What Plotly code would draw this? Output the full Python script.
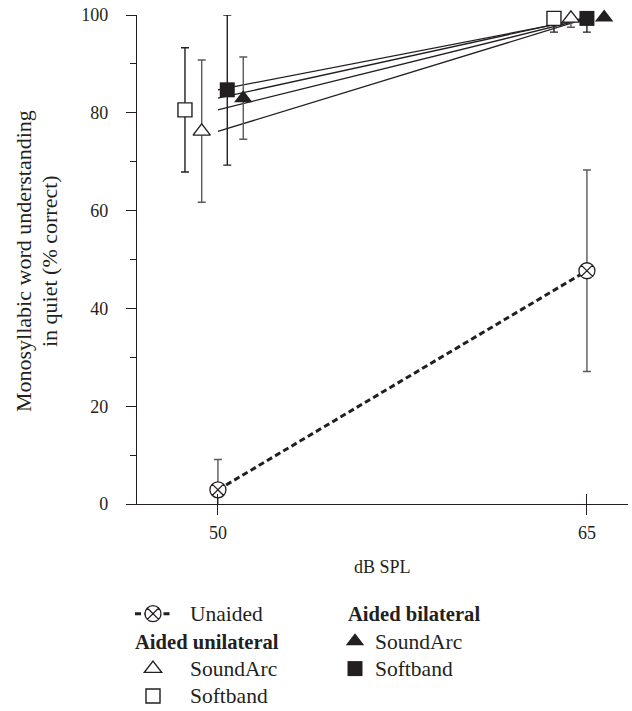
import plotly.graph_objects as go

# ---- data ----
levels = [50, 65]  # dB SPL

unaided_mean = [2.9, 47.7]
unaided_err = [6.2, 20.6]

uni_soundarc_mean = [76.2, 99.3]
uni_soundarc_err_up = [14.6, 0.7]
uni_soundarc_err_dn = [14.5, 1.8]

uni_softband_mean = [80.6, 99.3]
uni_softband_err_up = [12.7, 0.7]
uni_softband_err_dn = [12.7, 2.8]

bi_soundarc_mean = [83.0, 99.5]
bi_soundarc_err_up = [8.4, 0.0]
bi_soundarc_err_dn = [8.4, 0.0]

bi_softband_mean = [84.7, 99.3]
bi_softband_err_up = [15.3, 0.7]
bi_softband_err_dn = [15.4, 2.8]

# horizontal dodge of markers (dB) at each level
dodge_uni_softband = [-1.34, -1.34]
dodge_uni_soundarc = [-0.66, -0.65]
dodge_bi_softband = [0.38, 0.0]
dodge_bi_soundarc = [1.03, 0.70]

y_ticks = [0, 20, 40, 60, 80, 100]
x_ticks = [50, 65]

FONT = "Liberation Serif"
BLACK = "#231f20"
GRAY = "#5a5a5a"
LEG_TXT = 21.5   # visual legend text size
LEG_HDR = 20.6   # visual legend header size
LEG_ROW = 18.8   # legend font size that sets row spacing


def big(s, size):
    return '<span style="font-size:%spx">%s</span>' % (size, s)


def pad(size, n):
    return '<span style="font-size:%spx">%s</span>' % (size, "\u00a0" * n)


fig = go.Figure()

# connecting lines for aided conditions
for m in [bi_softband_mean, bi_soundarc_mean, uni_softband_mean, uni_soundarc_mean]:
    fig.add_trace(go.Scatter(x=levels, y=m, mode="lines",
                             line=dict(color=BLACK, width=1.3),
                             showlegend=False, hoverinfo="skip", cliponaxis=False))


def dodge(offsets):
    return [l + o for l, o in zip(levels, offsets)]


# unaided
fig.add_trace(go.Scatter(
    x=levels, y=unaided_mean, mode="lines+markers",
    name=pad(28, 2) + big("Unaided", LEG_TXT),
    line=dict(color=BLACK, width=3, dash="6px,3.5px"),
    marker=dict(symbol="circle-x", size=16, color="white",
                line=dict(color=BLACK, width=1.3)),
    error_y=dict(type="data", array=unaided_err, color=GRAY, thickness=1.4, width=4),
    legend="legend", legendgroup="unaided", cliponaxis=False))

# aided unilateral
fig.add_trace(go.Scatter(
    x=dodge(dodge_uni_soundarc), y=uni_soundarc_mean, mode="markers",
    name=pad(28, 2) + big("SoundArc", LEG_TXT),
    marker=dict(symbol="triangle-up", size=15, color="white",
                line=dict(color=BLACK, width=1.4)),
    error_y=dict(type="data", symmetric=False, array=uni_soundarc_err_up,
                 arrayminus=uni_soundarc_err_dn, color=GRAY, thickness=1.4, width=4),
    legend="legend", legendgroup="uni",
    legendgrouptitle=dict(text=big("<b>Aided unilateral</b>", LEG_HDR)), cliponaxis=False))

fig.add_trace(go.Scatter(
    x=dodge(dodge_uni_softband), y=uni_softband_mean, mode="markers",
    name=pad(28, 2) + big("Softband", LEG_TXT),
    marker=dict(symbol="square", size=14, color="white",
                line=dict(color=BLACK, width=1.4)),
    error_y=dict(type="data", symmetric=False, array=uni_softband_err_up,
                 arrayminus=uni_softband_err_dn, color=BLACK, thickness=1.4, width=4),
    legend="legend", legendgroup="uni", cliponaxis=False))

# aided bilateral
fig.add_trace(go.Scatter(
    x=dodge(dodge_bi_soundarc), y=bi_soundarc_mean, mode="markers",
    name=big("SoundArc", LEG_TXT),
    marker=dict(symbol="triangle-up", size=16, color=BLACK,
                line=dict(color=BLACK, width=0)),
    error_y=dict(type="data", symmetric=False, array=bi_soundarc_err_up,
                 arrayminus=bi_soundarc_err_dn, color=GRAY, thickness=1.4, width=4),
    legend="legend2", legendgroup="bi",
    legendgrouptitle=dict(text=pad(32, 1) + big("<b>Aided bilateral</b>", LEG_HDR)),
    cliponaxis=False))

fig.add_trace(go.Scatter(
    x=dodge(dodge_bi_softband), y=bi_softband_mean, mode="markers",
    name=big("Softband", LEG_TXT),
    marker=dict(symbol="square", size=15, color=BLACK,
                line=dict(color=BLACK, width=0)),
    error_y=dict(type="data", symmetric=False, array=bi_softband_err_up,
                 arrayminus=bi_softband_err_dn, color=BLACK, thickness=1.4, width=4),
    legend="legend2", legendgroup="bi", cliponaxis=False))

# dummy trace to activate overlay x-axis with inside ticks
fig.add_trace(go.Scatter(x=[], y=[], xaxis="x2", yaxis="y", showlegend=False,
                         hoverinfo="skip"))

# page body margin is removed in the written page, so figure px = window px
W, H = 632, 711
PL, PR, PT, PB = 137, 628, 15, 504  # plot area in pixels
L, T = PL, PT
R, B = W - PR, H - PB
pw, ph = PR - PL, PB - PT


def px(xp):  # px -> paper x
    return (xp - PL) / pw


def py(yp):  # px -> paper y
    return (PB - yp) / ph


def cx(xp):  # px -> container x
    return xp / W


def cy(yp):  # px -> container y
    return 1 - yp / H


legend_common = dict(font=dict(family=FONT, size=LEG_ROW, color=BLACK),
                     grouptitlefont=dict(family=FONT, size=LEG_ROW, color=BLACK),
                     bgcolor="rgba(0,0,0,0)", tracegroupgap=0,
                     xanchor="left", yanchor="top", orientation="v",
                     xref="container", yref="container")

fig.update_layout(
    width=W, height=H,
    margin=dict(l=L, r=R, t=T, b=B, autoexpand=False),
    paper_bgcolor="white", plot_bgcolor="white",
    font=dict(family=FONT, size=18, color=BLACK),
    hovermode=False,
    xaxis=dict(range=[46.71, 66.67], tickvals=x_ticks, ticks="outside", ticklen=10,
               tickwidth=1.3, tickcolor=BLACK, showline=True, linecolor=BLACK,
               linewidth=1.3, showgrid=False, zeroline=False, automargin=False,
               tickfont=dict(family=FONT, size=18, color=BLACK), ticklabelstandoff=2,
               ticklabeloverflow="allow"),
    xaxis2=dict(range=[46.71, 66.67], tickvals=x_ticks, ticks="inside", ticklen=10,
                tickwidth=1.3, tickcolor=BLACK, showticklabels=False, showline=False,
                showgrid=False, zeroline=False, overlaying="x", side="bottom",
                anchor="y", automargin=False),
    yaxis=dict(range=[0, 100], tickvals=y_ticks, ticks="outside", ticklen=10,
               tickwidth=1.3, tickcolor=BLACK, showline=True, linecolor=BLACK,
               linewidth=1.3, showgrid=False, zeroline=False, automargin=False,
               minor=dict(dtick=10, ticks="outside", ticklen=6, tickwidth=1.3,
                          tickcolor=BLACK, showgrid=False),
               tickfont=dict(family=FONT, size=18, color=BLACK), ticklabelstandoff=14,
               ticklabeloverflow="allow"),
    legend=dict(x=cx(130), y=cy(595), itemwidth=36, **legend_common),
    legend2=dict(x=cx(335), y=cy(595), itemwidth=30, **legend_common),
    annotations=[
        dict(text="Monosyllabic word understanding",
             xref="paper", yref="paper", x=px(23), y=py(261), textangle=-90,
             showarrow=False, xanchor="center", yanchor="middle",
             font=dict(family=FONT, size=22, color=BLACK)),
        dict(text="in quiet (% correct)",
             xref="paper", yref="paper", x=px(49), y=py(261), textangle=-90,
             showarrow=False, xanchor="center", yanchor="middle",
             font=dict(family=FONT, size=22, color=BLACK)),
        dict(text="dB SPL", xref="paper", yref="paper", x=px(382), y=py(567),
             showarrow=False, xanchor="center", yanchor="middle",
             font=dict(family=FONT, size=18, color=BLACK)),
    ],
)

fig.write_html("out.html",
               config={"displayModeBar": False},
               post_script="document.body.style.margin='0';"
                           "document.body.style.overflow='hidden';")
